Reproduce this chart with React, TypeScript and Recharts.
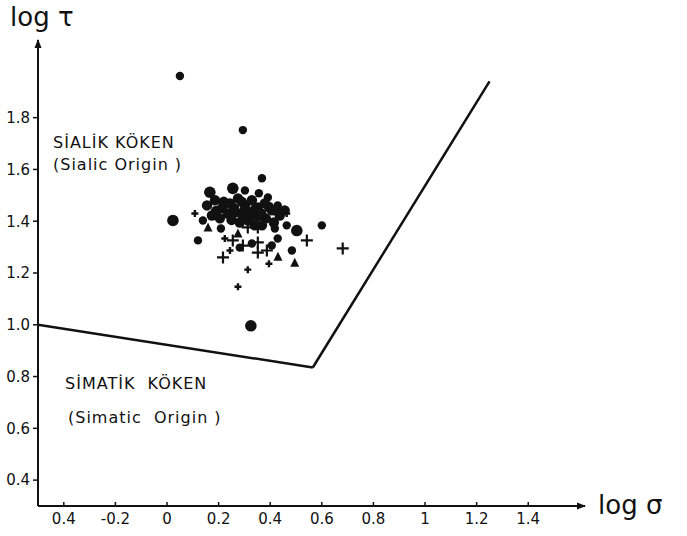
import * as React from 'react';
import { ScatterChart, Scatter, XAxis, YAxis, ReferenceLine, ReferenceDot } from 'recharts';

const X_TICKS = [-0.4, -0.2, 0, 0.2, 0.4, 0.6, 0.8, 1, 1.2, 1.4];
const X_TICK_LABELS = ['0.4', '-0.2', '0', '0.2', '0.4', '0.6', '0.8', '1', '1.2', '1.4'];
const Y_TICKS = [0.4, 0.6, 0.8, 1.0, 1.2, 1.4, 1.6, 1.8];
const Y_TICK_LABELS = ['0.4', '0.6', '0.8', '1.0', '1.2', '1.4', '1.6', '1.8'];

// field boundary (log sigma, log tau)
const boundaryLow = [
    { x: -0.5, y: 1.0 },
    { x: 0.565, y: 0.835 },
];
const boundaryHigh = [
    { x: 0.565, y: 0.835 },
    { x: 1.25, y: 1.94 },
];

const bigCircles = [
    { x: 0.023, y: 1.403 },
    { x: 0.166, y: 1.512 },
    { x: 0.255, y: 1.527 },
    { x: 0.503, y: 1.364 },
    { x: 0.325, y: 0.996 },
];

const circles = [
    { x: 0.05, y: 1.961 },
    { x: 0.294, y: 1.752 },
    { x: 0.368, y: 1.566 },
    { x: 0.302, y: 1.519 },
    { x: 0.356, y: 1.508 },
    { x: 0.391, y: 1.492 },
    { x: 0.429, y: 1.461 },
    { x: 0.139, y: 1.403 },
    { x: 0.209, y: 1.372 },
    { x: 0.464, y: 1.384 },
    { x: 0.6, y: 1.384 },
    { x: 0.418, y: 1.372 },
    { x: 0.12, y: 1.326 },
    { x: 0.429, y: 1.333 },
    { x: 0.406, y: 1.306 },
    { x: 0.484, y: 1.287 },
    { x: 0.282, y: 1.298 },
    { x: 0.329, y: 1.314 },
];

// the dense core of the cluster
const clusterCircles = [
    { x: 0.155, y: 1.461 },
    { x: 0.186, y: 1.481 },
    { x: 0.213, y: 1.45 },
    { x: 0.244, y: 1.469 },
    { x: 0.275, y: 1.488 },
    { x: 0.302, y: 1.461 },
    { x: 0.329, y: 1.481 },
    { x: 0.352, y: 1.453 },
    { x: 0.379, y: 1.469 },
    { x: 0.406, y: 1.442 },
    { x: 0.437, y: 1.422 },
    { x: 0.174, y: 1.422 },
    { x: 0.205, y: 1.411 },
    { x: 0.236, y: 1.43 },
    { x: 0.267, y: 1.434 },
    { x: 0.294, y: 1.422 },
    { x: 0.321, y: 1.434 },
    { x: 0.352, y: 1.419 },
    { x: 0.383, y: 1.411 },
    { x: 0.414, y: 1.395 },
    { x: 0.282, y: 1.395 },
    { x: 0.34, y: 1.384 },
    { x: 0.368, y: 1.384 },
    { x: 0.313, y: 1.403 },
    { x: 0.456, y: 1.442 },
    { x: 0.19, y: 1.44 },
    { x: 0.22, y: 1.475 },
    { x: 0.26, y: 1.45 },
    { x: 0.29, y: 1.475 },
    { x: 0.34, y: 1.445 },
    { x: 0.365, y: 1.43 },
    { x: 0.395, y: 1.455 },
    { x: 0.425, y: 1.44 },
    { x: 0.25, y: 1.405 },
    { x: 0.3, y: 1.44 },
];

const triangles = [
    { x: 0.159, y: 1.376 },
    { x: 0.275, y: 1.353 },
    { x: 0.43, y: 1.263 },
    { x: 0.495, y: 1.24 },
];

const crosses = [
    { x: 0.294, y: 1.306 },
    { x: 0.352, y: 1.318 },
    { x: 0.352, y: 1.279 },
    { x: 0.387, y: 1.287 },
    { x: 0.217, y: 1.26 },
    { x: 0.255, y: 1.326 },
    { x: 0.313, y: 1.376 },
    { x: 0.352, y: 1.376 },
    { x: 0.333, y: 1.411 },
    { x: 0.542, y: 1.326 },
    { x: 0.681, y: 1.295 },
];

const smallCrosses = [
    { x: 0.224, y: 1.333 },
    { x: 0.244, y: 1.287 },
    { x: 0.108, y: 1.43 },
    { x: 0.464, y: 1.43 },
    { x: 0.313, y: 1.213 },
    { x: 0.395, y: 1.236 },
    { x: 0.275, y: 1.147 },
];

const FONT = '"DejaVu Sans", sans-serif';
const INK = '#111';

const dot = (r: number) => (p: any) => <circle cx={p.cx} cy={p.cy} r={r} fill={INK} />;

const triangle = (p: any) => (
    <path d={`M${p.cx},${p.cy - 5} L${p.cx - 4.5},${p.cy + 4} L${p.cx + 4.5},${p.cy + 4} Z`} fill={INK} />
);

const plus = (h: number, w: number) => (p: any) => (
    <path
        d={`M${p.cx - h},${p.cy} L${p.cx + h},${p.cy} M${p.cx},${p.cy - h} L${p.cx},${p.cy + h}`}
        stroke={INK}
        strokeWidth={w}
    />
);

const arrowUp = (p: any) => (
    <path d={`M${p.cx},${p.cy - 1} L${p.cx - 3.5},${p.cy + 8} L${p.cx + 3.5},${p.cy + 8} Z`} fill={INK} />
);

const arrowRight = (p: any) => (
    <path d={`M${p.cx + 1},${p.cy} L${p.cx - 8},${p.cy - 3.5} L${p.cx - 8},${p.cy + 3.5} Z`} fill={INK} />
);

function XTick(props: any) {
    const { x, y, payload } = props;
    const label = X_TICK_LABELS[X_TICKS.indexOf(payload.value)];
    return (
        <g>
            <line x1={x} x2={x} y1={y - 7} y2={y - 11} stroke={INK} strokeWidth={1.5} />
            <text x={x} y={y} dy="0.71em" textAnchor="middle" fill={INK} fontSize={15} fontFamily={FONT}>
                {label}
            </text>
        </g>
    );
}

const textStyle: React.CSSProperties = {
    position: 'absolute',
    fontFamily: FONT,
    fontSize: 16,
    lineHeight: '16px',
    color: INK,
    letterSpacing: 1,
    whiteSpace: 'pre',
};

export default function App() {
    return (
        <div style={{ position: 'absolute', left: 0, top: 0, width: 687, height: 536, background: '#fff' }}>
            <ScatterChart width={687} height={536} margin={{ top: 40, right: 102, bottom: 0, left: 0 }}>
                <XAxis
                    type="number"
                    dataKey="x"
                    domain={[-0.5, 1.62]}
                    ticks={X_TICKS}
                    interval={0}
                    allowDataOverflow
                    height={30}
                    axisLine={{ stroke: INK, strokeWidth: 2 }}
                    tickLine={false}
                    tickSize={4}
                    tickMargin={3}
                    tick={<XTick />}
                />
                <YAxis
                    type="number"
                    dataKey="y"
                    domain={[0.3, 2.1]}
                    ticks={Y_TICKS}
                    interval={0}
                    allowDataOverflow
                    width={38}
                    axisLine={{ stroke: INK, strokeWidth: 2 }}
                    tickLine={{ stroke: INK, strokeWidth: 1.5 }}
                    tickSize={5}
                    tickMargin={3}
                    tickFormatter={(v: number) => Y_TICK_LABELS[Y_TICKS.indexOf(v)]}
                    tick={{ fill: INK, fontSize: 15, fontFamily: FONT }}
                />
                <ReferenceLine segment={boundaryLow} stroke={INK} strokeWidth={2.5} ifOverflow="visible" />
                <ReferenceLine segment={boundaryHigh} stroke={INK} strokeWidth={2.5} ifOverflow="visible" />
                <ReferenceDot x={-0.5} y={2.1} ifOverflow="visible" shape={arrowUp} />
                <ReferenceDot x={1.62} y={0.3} ifOverflow="visible" shape={arrowRight} />
                <Scatter data={clusterCircles} shape={dot(5.2)} isAnimationActive={false} />
                <Scatter data={circles} shape={dot(4.2)} isAnimationActive={false} />
                <Scatter data={bigCircles} shape={dot(5.8)} isAnimationActive={false} />
                <Scatter data={triangles} shape={triangle} isAnimationActive={false} />
                <Scatter data={crosses} shape={plus(6, 2.2)} isAnimationActive={false} />
                <Scatter data={smallCrosses} shape={plus(3.5, 2.4)} isAnimationActive={false} />
            </ScatterChart>
            <div style={{ ...textStyle, left: 10, top: 2, fontSize: 26, lineHeight: '30px', letterSpacing: 0 }}>log τ</div>
            <div style={{ ...textStyle, left: 598, top: 490, fontSize: 26, lineHeight: '30px', letterSpacing: 0 }}>log σ</div>
            <div style={{ ...textStyle, left: 53, top: 135 }}>SİALİK KÖKEN</div>
            <div style={{ ...textStyle, left: 53, top: 157 }}>(Sialic Origin )</div>
            <div style={{ ...textStyle, left: 65, top: 376 }}>SİMATİK  KÖKEN</div>
            <div style={{ ...textStyle, left: 68, top: 410 }}>(Simatic  Origin )</div>
        </div>
    );
}
